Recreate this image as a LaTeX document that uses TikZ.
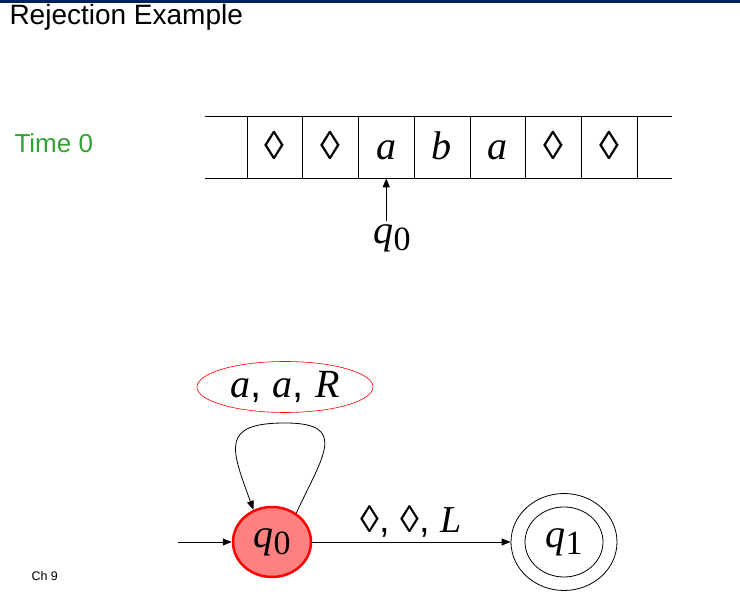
\documentclass[tikz,border=0pt]{standalone}
\usepackage{fontspec}
\setmainfont{Liberation Sans}
\newfontfamily\tms{Liberation Serif}
\usetikzlibrary{arrows.meta,positioning,shapes,calc}
\definecolor{navy}{RGB}{0,32,96}
\definecolor{tgreen}{RGB}{51,160,51}
\definecolor{qfill}{RGB}{255,128,128}
\newcommand{\sym}[1]{{\tms\itshape #1}}
\newcommand{\blk}{{\tms ◊}}
\newcommand{\qlab}[1]{\sym{q}\raisebox{-7pt}{\tms\fontsize{34}{34}\selectfont #1}}

\begin{document}
\begin{tikzpicture}[x=1pt, y=1pt, >={Triangle[length=9pt,width=7pt]},
  cell/.style={draw, line width=0.6pt, minimum width=55.7pt, minimum height=62pt, inner sep=0pt, text height=30pt, text depth=4pt, font=\fontsize{40}{40}\selectfont},
  state/.style={ellipse, draw, line width=0.8pt, minimum width=78pt, minimum height=70pt, inner sep=0pt, font=\fontsize{40}{40}\selectfont},
  edge/.style={->, line width=0.8pt}]
\useasboundingbox (0,0) rectangle (740,601);
\fill[navy] (0,597.5) rectangle (740,601);
\node[anchor=base west, font=\fontsize{28}{28}\selectfont] (title) at (6,576) {Rejection Example};
\node[anchor=base west, text=tgreen, font=\fontsize{26}{26}\selectfont] (time) at (11,448) {Time 0};
% tape
\draw[line width=0.6pt] (205,485) -- (672,485) (205,423) -- (672,423);
\foreach \s [count=\i] in {\blk,\blk,\sym{a},\sym{b},\sym{a},\blk,\blk}
  \node[cell] (c\i) at (219.15+55.7*\i,454) {\s};
\node[font=\fontsize{40}{40}\selectfont] (head) at (392,363) {\qlab{0}};
\draw[edge] (head.north -| c3.south) -- (c3.south);
% machine
\node[state, fill=qfill, draw=red, line width=2.5pt] (q0) at (272,59) {\qlab{0}};
\node[state, minimum width=106pt, minimum height=97pt] (q1) at (564,59) {};
\node[state] (q1in) at (q1) {\qlab{1}};
\coordinate (init) at (178,59);
\draw[edge] (init) -- (q0);
\draw[edge] (q0) -- node[above=1pt, font=\fontsize{38}{38}\selectfont] (lbl) {\blk, \blk, \sym{L}} (q1);
\coordinate (looptop) at (285,178);
\draw[edge] (q0.50) to[out=65,in=0,looseness=1.8] (looptop) to[out=180,in=110,looseness=1.8] (q0.120);
\node[ellipse, draw=red, line width=0.6pt, minimum width=176pt, minimum height=51pt, inner sep=0pt, font=\fontsize{40}{40}\selectfont] (rule) at (285,214) {\sym{a}, \sym{a}, \sym{R}};
\node[anchor=base west, font=\fontsize{12.5}{12.5}\selectfont] (ch) at (28,20) {Ch 9};
\end{tikzpicture}
\end{document}
